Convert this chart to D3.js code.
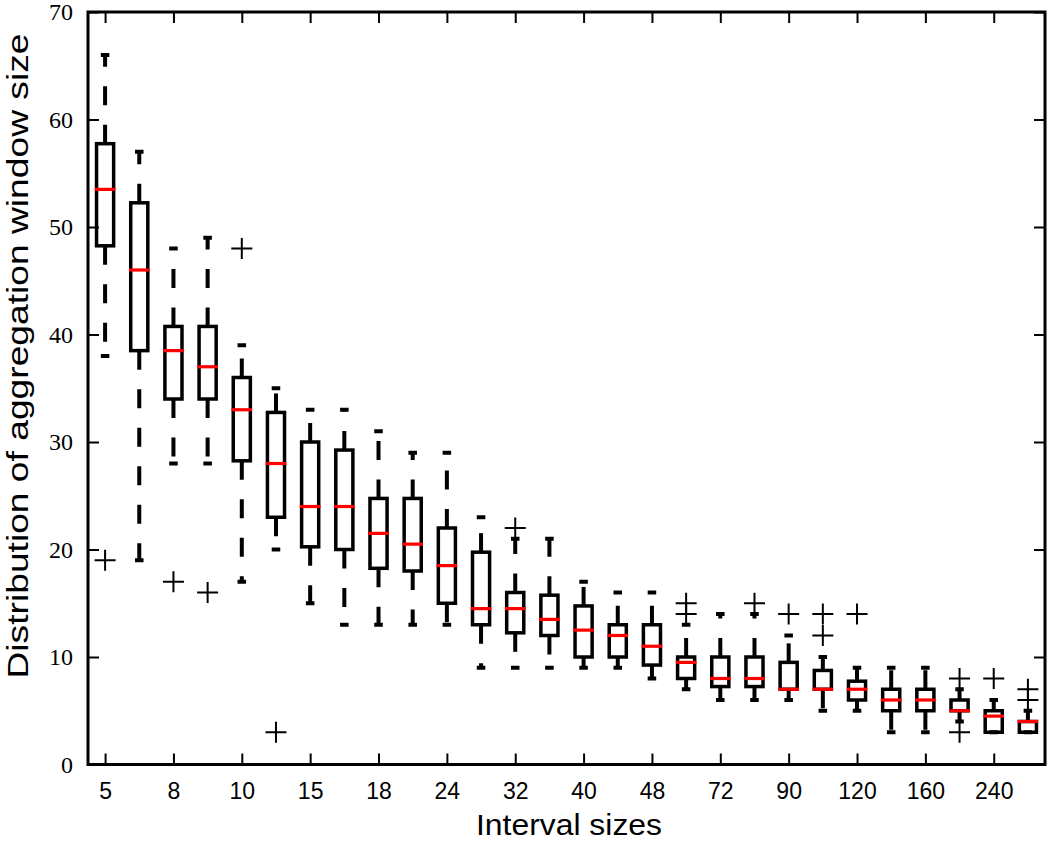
<!DOCTYPE html>
<html>
<head>
<meta charset="utf-8">
<script src="https://cdn.jsdelivr.net/npm/d3@7"></script>
<style>
  html, body { margin: 0; padding: 0; background: #fff; }
  svg { display: block; }
</style>
</head>
<body>
<svg id="chart" width="1050" height="843"></svg>
<script>
// ---- Data ----
const categories = [5, 6, 8, 9, 10, 12, 15, 16, 18, 20, 24, 30, 32, 36, 40, 45, 48, 60, 72, 80, 90, 96, 120, 144, 160, 180, 240, 288];
const whiskerLow  = [38, 19, 28, 28, 17, 20, 15, 13, 13, 13, 13, 9, 9, 9, 9, 9, 8, 7, 6, 6, 6, 5, 5, 3, 3, 4, 3, 3];
const q1          = [48.25, 38.5, 34, 34, 28.25, 23, 20.25, 20, 18.25, 18, 15, 13, 12.25, 12, 10, 10, 9.25, 8, 7.25, 7.25, 7, 7, 6, 5, 5, 5, 3, 3];
const median      = [53.5, 46, 38.5, 37, 33, 28, 24, 24, 21.5, 20.5, 18.5, 14.5, 14.5, 13.5, 12.5, 12, 11, 9.5, 8, 8, 7, 7, 7, 6, 6, 5, 4.5, 4];
const q3          = [57.75, 52.25, 40.75, 40.75, 36, 32.75, 30, 29.25, 24.75, 24.75, 22, 19.75, 16, 15.75, 14.75, 13, 13, 10, 10, 10, 9.5, 8.75, 7.75, 7, 7, 6, 5, 4];
const whiskerHigh = [66, 57, 48, 49, 39, 35, 33, 33, 31, 29, 29, 23, 21, 21, 17, 16, 16, 13, 14, 14, 12, 10, 9, 9, 9, 7, 6, 5];
const fliers      = [[19], [], [17], [16], [48], [3], [], [], [], [], [], [], [22], [], [], [], [], [14, 15], [], [15], [14], [12, 14], [14], [], [], [3, 8], [8], [6, 7]];
const yTicks = [0, 10, 20, 30, 40, 50, 60, 70];
const xLabelEvery = 2;
const xAxisTitle = "Interval sizes";
const yAxisTitle = "Distribution of aggregation window size";

// ---- Layout ----
const pLeft = 88, pRight = 1045, pTop = 12, pBottom = 764.5;
const svg = d3.select("#chart");
const n = categories.length;
const x = d3.scaleLinear().domain([0.5, n + 0.5]).range([pLeft, pRight]);
const y = d3.scaleLinear().domain([0, 70]).range([pBottom, pTop]);
const step = x(2) - x(1);
const boxW = step * 0.5;
const capW = step * 0.25;
const lw = 3.5;

const boxes = categories.map((c, i) => ({
  i: i + 1, cat: c, lo: whiskerLow[i], q1: q1[i], med: median[i], q3: q3[i], hi: whiskerHigh[i], fl: fliers[i]
}));

const g = svg.append("g");

// whiskers (dashed, starting at the box edge)
g.selectAll("line.wlow").data(boxes).join("line")
  .attr("x1", d => x(d.i)).attr("x2", d => x(d.i))
  .attr("y1", d => y(d.q1)).attr("y2", d => y(d.lo))
  .attr("stroke", "#000").attr("stroke-width", lw + 0.5)
  .attr("stroke-dasharray", "19,19.5");
g.selectAll("line.whigh").data(boxes).join("line")
  .attr("x1", d => x(d.i)).attr("x2", d => x(d.i))
  .attr("y1", d => y(d.q3)).attr("y2", d => y(d.hi))
  .attr("stroke", "#000").attr("stroke-width", lw + 0.5)
  .attr("stroke-dasharray", "19,19.5");

// caps
["lo", "hi"].forEach(k => {
  g.selectAll("line.cap" + k).data(boxes).join("line")
    .attr("x1", d => x(d.i) - capW / 2).attr("x2", d => x(d.i) + capW / 2)
    .attr("y1", d => y(d[k])).attr("y2", d => y(d[k]))
    .attr("stroke", "#000").attr("stroke-width", lw + 0.5);
});

// boxes
g.selectAll("rect.box").data(boxes).join("rect")
  .attr("x", d => x(d.i) - boxW / 2).attr("width", boxW)
  .attr("y", d => y(d.q3)).attr("height", d => Math.max(0, y(d.q1) - y(d.q3)))
  .attr("fill", "none").attr("stroke", "#000").attr("stroke-width", lw);

// medians
g.selectAll("line.med").data(boxes).join("line")
  .attr("x1", d => x(d.i) - boxW / 2 - lw / 2).attr("x2", d => x(d.i) + boxW / 2 + lw / 2)
  .attr("y1", d => y(d.med)).attr("y2", d => y(d.med))
  .attr("stroke", "#ff0000").attr("stroke-width", 3.2);

// fliers (+ markers)
const fl = boxes.flatMap(d => d.fl.map(v => ({ i: d.i, v })));
const ms = 10.5;
g.selectAll("path.flier").data(fl).join("path")
  .attr("d", d => `M${x(d.i) - ms},${y(d.v)}H${x(d.i) + ms}M${x(d.i)},${y(d.v) - ms}V${y(d.v) + ms}`)
  .attr("stroke", "#000").attr("stroke-width", 2).attr("fill", "none");

// ---- Axes ----
const tickIdx = d3.range(1, n + 1).filter((v, k) => k % xLabelEvery === 0);
const fmtX = v => String(categories[v - 1]);

function styleAxis(sel) {
  sel.select(".domain").remove();
  sel.selectAll(".tick line").attr("stroke", "#000").attr("stroke-width", 2);
}

svg.append("g").attr("transform", `translate(${pLeft},0)`)
  .call(d3.axisLeft(y).tickValues(yTicks).tickSize(-11).tickPadding(15).tickFormat(d3.format("d")))
  .call(styleAxis)
  .selectAll("text").attr("font-family", "'Liberation Serif', 'DejaVu Serif', serif")
  .attr("font-size", 24).attr("fill", "#000");

svg.append("g").attr("transform", `translate(${pRight},0)`)
  .call(d3.axisRight(y).tickValues(yTicks).tickSize(-11).tickFormat(""))
  .call(styleAxis);

svg.append("g").attr("transform", `translate(0,${pBottom})`)
  .call(d3.axisBottom(x).tickValues(tickIdx).tickSize(-11).tickPadding(18).tickFormat(fmtX))
  .call(styleAxis)
  .selectAll("text").attr("font-family", "'Liberation Sans', Arial, sans-serif")
  .attr("font-size", 23).attr("fill", "#000");

svg.append("g").attr("transform", `translate(0,${pTop})`)
  .call(d3.axisTop(x).tickValues(tickIdx).tickSize(-11).tickFormat(""))
  .call(styleAxis);

// frame
svg.append("rect")
  .attr("x", pLeft).attr("y", pTop).attr("width", pRight - pLeft).attr("height", pBottom - pTop)
  .attr("fill", "none").attr("stroke", "#000").attr("stroke-width", 3);

// titles
svg.append("text")
  .attr("x", 569).attr("y", 835)
  .attr("text-anchor", "middle")
  .attr("font-family", "'Liberation Sans', Arial, sans-serif").attr("font-size", 30)
  .attr("textLength", 186).attr("lengthAdjust", "spacingAndGlyphs")
  .attr("fill", "#000")
  .text(xAxisTitle);

svg.append("text")
  .attr("transform", `translate(28,356) rotate(-90)`)
  .attr("text-anchor", "middle")
  .attr("font-family", "'Liberation Sans', Arial, sans-serif").attr("font-size", 30)
  .attr("textLength", 645).attr("lengthAdjust", "spacingAndGlyphs")
  .attr("fill", "#000")
  .text(yAxisTitle);
</script>
</body>
</html>
